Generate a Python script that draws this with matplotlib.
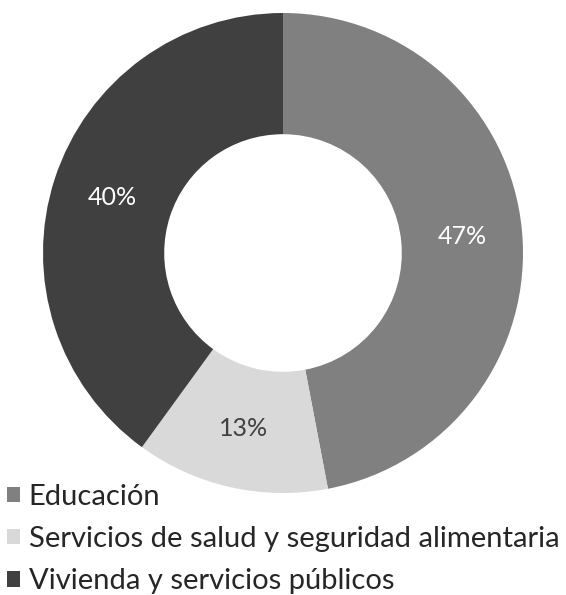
import matplotlib
matplotlib.use("Agg")
import matplotlib.pyplot as plt
from matplotlib.patches import Patch

# --- data ---
categories = ["Educación",
              "Servicios de salud y seguridad alimentaria",
              "Vivienda y servicios públicos"]
shares = [47, 13, 40]
colors = ["#808080", "#d9d9d9", "#404040"]
label_colors = ["white", "#404040", "white"]

plt.rcParams["font.family"] = ["Lato", "DejaVu Sans"]

W, H = 566, 595
fig = plt.figure(figsize=(W / 100, H / 100), dpi=100)

# donut: centre ~(283, 253) px, outer radius ~240 px
ax = fig.add_axes([43 / W, (H - 493) / H, 480 / W, 480 / H])
wedges, _, autotexts = ax.pie(
    shares, colors=colors, startangle=90, counterclock=False,
    radius=1.0, pctdistance=0.75, autopct="%1.0f%%",
    wedgeprops=dict(width=0.505, linewidth=0),
)
for t, c in zip(autotexts, label_colors):
    t.set_color(c)
    t.set_fontsize(18)
ax.set_xlim(-1, 1)
ax.set_ylim(-1, 1)
ax.set_aspect("equal")
ax.axis("off")

handles = [Patch(facecolor=c, edgecolor="none") for c in colors]
fig.legend(handles, categories, loc="upper left",
           bbox_to_anchor=(0.012, (H - 484) / H), frameon=False,
           fontsize=21, handlelength=0.45, handleheight=0.45,
           handletextpad=0.3, labelspacing=0.55, borderaxespad=0,
           borderpad=0, labelcolor="#262626")

fig.savefig("out.png", dpi=100)
